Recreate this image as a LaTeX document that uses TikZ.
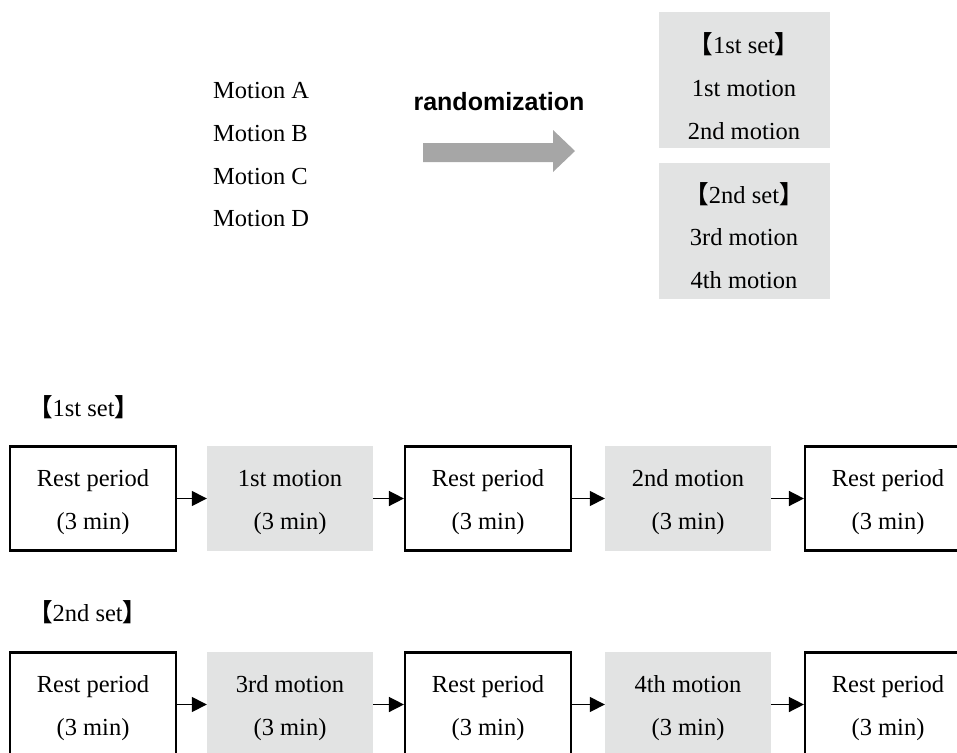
\documentclass[tikz,border=0pt]{standalone}
\usepackage{fontspec}
\setmainfont{Liberation Serif}
\newfontfamily\sansbold{Liberation Sans}[BoldFont={* Bold}]
\newfontfamily\cjk{Noto Sans CJK SC}
\usetikzlibrary{arrows.meta}
\definecolor{boxgray}{HTML}{E2E3E3}
\definecolor{arrowgray}{HTML}{A6A6A6}
\newcommand{\lb}{{\cjk\bfseries 【}}
\newcommand{\rb}{{\cjk\bfseries 】}}
\tikzset{
  txt/.style={inner sep=0pt, font=\fontsize{24.5}{28}\selectfont, anchor=base},
  restbox/.style={draw=black, line width=2.2pt, fill=white, minimum width=166pt, minimum height=104pt, inner sep=0pt},
  motionbox/.style={draw=none, fill=boxgray, minimum width=166pt, minimum height=105pt, inner sep=0pt},
  graypanel/.style={draw=none, fill=boxgray, minimum width=171pt, minimum height=136pt, inner sep=0pt},
  flow/.style={line width=1.5pt, -{Triangle[length=15pt, width=15pt]}}
}
\begin{document}
\begin{tikzpicture}[x=1pt, y=-1pt]
\useasboundingbox (0,0) rectangle (957,752);
\clip (0,0) rectangle (957,752);
% left list
\node[txt, anchor=base west] (ma) at (213,98) {Motion A};
\node[txt, anchor=base west] (mb) at (213,141) {Motion B};
\node[txt, anchor=base west] (mc) at (213,184) {Motion C};
\node[txt, anchor=base west] (md) at (213,226) {Motion D};
% randomization
\node[inner sep=0pt, anchor=base, font=\sansbold\bfseries\fontsize{25}{28}\selectfont] (rand) at (499,110) {randomization};
\fill[arrowgray] (423,143) -- (553,143) -- (553,130) -- (575,151) -- (553,172) -- (553,162) -- (423,162) -- cycle;
% right panels
\node[graypanel] (p1) at (744.5,80) {};
\node[graypanel] (p2) at (744.5,230.5) {};
\node[txt] (p1a) at (744,53) {\lb 1st set\rb};
\node[txt] (p1b) at (744,96) {1st motion};
\node[txt] (p1c) at (744,139) {2nd motion};
\node[txt] (p2a) at (744,203) {\lb 2nd set\rb};
\node[txt] (p2b) at (744,245) {3rd motion};
\node[txt] (p2c) at (744,288) {4th motion};
% set labels
\node[txt, anchor=base west] (s1) at (28,416) {\lb 1st set\rb};
\node[txt, anchor=base west] (s2) at (28,621) {\lb 2nd set\rb};
% row 1
\node[restbox] (r1a) at (93,498.5) {};
\node[motionbox] (r1b) at (290,498.5) {};
\node[restbox] (r1c) at (488,498.5) {};
\node[motionbox] (r1d) at (688,498.5) {};
\node[restbox] (r1e) at (888,498.5) {};
% row 2
\node[restbox] (r2a) at (93,704.5) {};
\node[motionbox] (r2b) at (290,704.5) {};
\node[restbox] (r2c) at (488,704.5) {};
\node[motionbox] (r2d) at (688,704.5) {};
\node[restbox] (r2e) at (888,704.5) {};
% texts row 1
\foreach \n/\x/\t in {a/93/Rest period, b/290/1st motion, c/488/Rest period, d/688/2nd motion, e/888/Rest period}{
  \node[txt] (t1\n) at (\x,486) {\t};
  \node[txt] (u1\n) at (\x,529) {(3 min)};
}
\foreach \n/\x/\t in {a/93/Rest period, b/290/3rd motion, c/488/Rest period, d/688/4th motion, e/888/Rest period}{
  \node[txt] (t2\n) at (\x,692) {\t};
  \node[txt] (u2\n) at (\x,735) {(3 min)};
}
% arrows
\draw[flow] (r1a.east) -- (r1b.west);
\draw[flow] (r1b.east) -- (r1c.west);
\draw[flow] (r1c.east) -- (r1d.west);
\draw[flow] (r1d.east) -- (r1e.west);
\draw[flow] (r2a.east) -- (r2b.west);
\draw[flow] (r2b.east) -- (r2c.west);
\draw[flow] (r2c.east) -- (r2d.west);
\draw[flow] (r2d.east) -- (r2e.west);
\end{tikzpicture}
\end{document}
